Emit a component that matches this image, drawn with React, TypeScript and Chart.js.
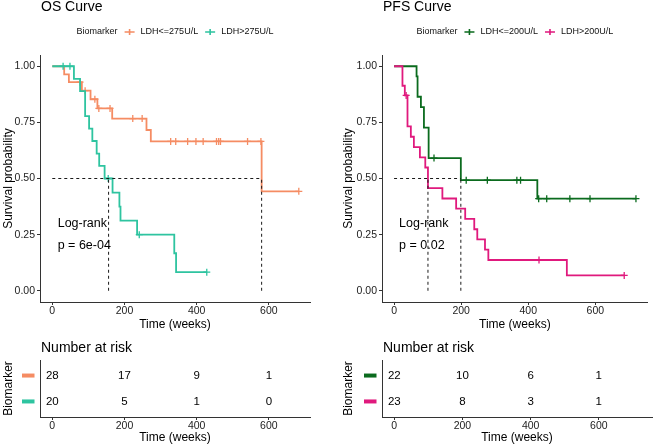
import React, { useEffect, useRef } from 'react';
import { Chart, registerables } from 'chart.js';
Chart.register(...registerables);

const FONT = "'Liberation Sans', Arial, Helvetica, sans-serif";

// ---------- shared ticks ----------
const xTicks = [0, 200, 400, 600];
const yTicks = [0, 0.25, 0.5, 0.75, 1];
const riskTimes = [0, 200, 400, 600];

// ---------- OS curve ----------
const osGroups = ['LDH<=275U/L', 'LDH>275U/L'];
const osColors = ['#F58C63', '#2EC4A0'];
const osLowTimes = [33, 46, 82, 106, 125, 166, 261, 273, 580];
const osLowSurv = [0.964, 0.929, 0.891, 0.853, 0.812, 0.767, 0.716, 0.665, 0.443];
const osLowCensor = [77, 91, 118, 129, 160, 223, 249, 328, 342, 375, 398, 418, 455, 461, 466, 541, 578, 683];
const osHighTimes = [60, 77, 91, 102, 111, 123, 130, 145, 167, 186, 189, 235, 338, 343];
const osHighSurv = [0.944, 0.889, 0.778, 0.722, 0.667, 0.611, 0.556, 0.5, 0.4375, 0.375, 0.3125, 0.25, 0.167, 0.083];
const osHighCensor = [30, 49, 155, 241, 428];
const osMedians = [156, 580];
const osPValue = 'p = 6e-04';
const osRiskLow = [28, 17, 9, 1];
const osRiskHigh = [20, 5, 1, 0];

// ---------- PFS curve ----------
const pfsGroups = ['LDH<=200U/L', 'LDH>200U/L'];
const pfsColors = ['#0B6B1E', '#E0197D'];
const pfsLowTimes = [67, 70, 80, 89, 103, 199, 427];
const pfsLowSurv = [0.955, 0.864, 0.818, 0.727, 0.591, 0.4925, 0.41];
const pfsLowCensor = [119, 215, 278, 366, 377, 431, 455, 524, 584, 721];
const pfsHighTimes = [25, 32, 40, 50, 59, 77, 93, 101, 144, 185, 212, 239, 248, 271, 281, 515];
const pfsHighSurv = [0.913, 0.87, 0.732, 0.686, 0.64, 0.594, 0.549, 0.457, 0.411, 0.366, 0.32, 0.274, 0.229, 0.183, 0.137, 0.0685];
const pfsHighCensor = [36, 432, 686];
const pfsMedians = [101, 199];
const pfsPValue = 'p = 0.02';
const pfsRiskLow = [22, 10, 6, 1];
const pfsRiskHigh = [23, 8, 3, 1];

type Curve = { times: number[]; surv: number[]; censor: number[] };

function survAt(c: Curve, t: number) {
  let s = 1;
  for (let i = 0; i < c.times.length; i++) if (c.times[i] <= t) s = c.surv[i];
  return s;
}

function axisCommon(min: number, max: number) {
  return {
    type: 'linear' as const,
    min,
    max,
    grid: { display: true, drawOnChartArea: false, drawTicks: true, tickLength: 3, color: '#333', lineWidth: 1 },
    border: { display: true, color: '#333', width: 1 },
  };
}

type SurvProps = {
  title: string;
  groups: string[];
  colors: string[];
  curves: Curve[];
  medians: number[];
  pText: string;
  xMin: number;
  xMax: number;
  padLeft: number;
  padRight: number;
  yWidth: number;
  width: number;
};

function SurvChart(p: SurvProps) {
  const ref = useRef<HTMLCanvasElement>(null);
  useEffect(() => {
    const datasets: any[] = [];
    const dash = { borderColor: '#1a1a1a', borderWidth: 1, borderDash: [3, 3], pointRadius: 0, fill: false, tension: 0 };
    datasets.push({ ...dash, data: [{ x: 0, y: 0.5 }, { x: Math.max(...p.medians), y: 0.5 }] });
    p.medians.forEach((m) => datasets.push({ ...dash, data: [{ x: m, y: 0 }, { x: m, y: 0.5 }] }));
    for (let g = p.curves.length - 1; g >= 0; g--) {
      const c = p.curves[g];
      const end = Math.max(...c.censor);
      const pts = [{ x: 0, y: 1 }, ...c.times.map((t, i) => ({ x: t, y: c.surv[i] })), { x: end, y: c.surv[c.surv.length - 1] }];
      datasets.push({
        data: c.censor.map((t) => ({ x: t, y: survAt(c, t) })),
        showLine: false,
        pointStyle: 'cross',
        pointRadius: 3.5,
        pointBorderWidth: 1.3,
        borderColor: p.colors[g],
        backgroundColor: p.colors[g],
      });
      datasets.push({ data: pts, stepped: 'before', borderColor: p.colors[g], borderWidth: 1.8, pointRadius: 0, fill: false });
    }
    const decor = {
      id: 'decor',
      afterDraw(chart: any) {
        const ctx = chart.ctx;
        const ca = chart.chartArea;
        ctx.save();
        ctx.fillStyle = '#000';
        ctx.textBaseline = 'middle';
        ctx.textAlign = 'left';
        ctx.font = `14px ${FONT}`;
        ctx.fillText(p.title, ca.left + 1, 7.5);
        // legend
        ctx.font = `9px ${FONT}`;
        const keyW = 10, keyGap = 6, itemGap = 7, titleGap = 7;
        const tW = ctx.measureText('Biomarker').width;
        const lw = p.groups.map((g) => ctx.measureText(g).width);
        let total = tW + titleGap;
        lw.forEach((w, i) => { total += keyW + keyGap + w + (i > 0 ? itemGap : 0); });
        let x = (ca.left + ca.right) / 2 - total / 2;
        const y = 32;
        ctx.fillStyle = '#111';
        ctx.fillText('Biomarker', x, y);
        x += tW + titleGap;
        p.groups.forEach((g, i) => {
          if (i > 0) x += itemGap;
          ctx.strokeStyle = p.colors[i];
          ctx.lineWidth = 1.6;
          ctx.beginPath();
          ctx.moveTo(x, y); ctx.lineTo(x + keyW, y);
          ctx.moveTo(x + keyW / 2, y - 3); ctx.lineTo(x + keyW / 2, y + 3);
          ctx.stroke();
          x += keyW + keyGap;
          ctx.fillStyle = '#111';
          ctx.fillText(g, x, y);
          x += lw[i];
        });
        // log-rank
        const xs = chart.scales.x, ys = chart.scales.y;
        ctx.font = `12.5px ${FONT}`;
        ctx.fillStyle = '#000';
        ctx.fillText('Log-rank', xs.getPixelForValue(15), ys.getPixelForValue(0.3));
        ctx.fillText(p.pText, xs.getPixelForValue(15), ys.getPixelForValue(0.2));
        ctx.restore();
      },
    };
    const chart = new Chart(ref.current!, {
      type: 'line',
      data: { datasets },
      plugins: [decor],
      options: {
        responsive: false,
        animation: false,
        layout: { padding: { top: 55, left: p.padLeft, right: p.padRight, bottom: 0 } },
        plugins: { legend: { display: false }, tooltip: { enabled: false } },
        scales: {
          x: {
            ...axisCommon(p.xMin, p.xMax),
            afterBuildTicks: (s: any) => { s.ticks = xTicks.map((v) => ({ value: v })); },
            afterFit: (s: any) => { s.height = 31; },
            ticks: { font: { family: FONT, size: 10.5 }, color: '#222', padding: 0, maxRotation: 0, autoSkip: false },
            title: { display: true, text: 'Time (weeks)', font: { family: FONT, size: 12 }, color: '#000', padding: { top: 0, bottom: 1 } },
          },
          y: {
            ...axisCommon(-0.05, 1.05),
            afterBuildTicks: (s: any) => { s.ticks = yTicks.map((v) => ({ value: v })); },
            afterFit: (s: any) => { s.width = p.yWidth; },
            ticks: { font: { family: FONT, size: 10.5 }, color: '#222', padding: 2, callback: (v: any) => Number(v).toFixed(2) },
            title: { display: true, text: 'Survival probability', font: { family: FONT, size: 12 }, color: '#000', padding: { top: 1, bottom: 0 } },
          },
        },
      } as any,
    });
    return () => chart.destroy();
  }, []);
  return <canvas ref={ref} width={p.width} height={333} style={{ display: 'block' }} />;
}

type RiskProps = {
  colors: string[];
  rows: number[][];
  xMin: number;
  xMax: number;
  padLeft: number;
  padRight: number;
  yWidth: number;
  width: number;
};

function RiskChart(p: RiskProps) {
  const ref = useRef<HTMLCanvasElement>(null);
  useEffect(() => {
    const decor = {
      id: 'riskdecor',
      afterDraw(chart: any) {
        const ctx = chart.ctx;
        const ca = chart.chartArea;
        const xs = chart.scales.x, ys = chart.scales.y;
        ctx.save();
        ctx.textBaseline = 'middle';
        ctx.textAlign = 'left';
        ctx.fillStyle = '#000';
        ctx.font = `14px ${FONT}`;
        ctx.fillText('Number at risk', ca.left + 1, 15.5);
        ctx.font = `11.5px ${FONT}`;
        ctx.textAlign = 'center';
        p.rows.forEach((row, r) => {
          const yv = ys.getPixelForValue(p.rows.length - r);
          ctx.fillStyle = p.colors[r];
          ctx.fillRect(ca.left - 18, yv - 2, 12.5, 4);
          ctx.fillStyle = '#000';
          row.forEach((n, i) => ctx.fillText(String(n), xs.getPixelForValue(riskTimes[i]), yv));
        });
        ctx.restore();
      },
    };
    const chart = new Chart(ref.current!, {
      type: 'line',
      data: { datasets: [] },
      plugins: [decor],
      options: {
        responsive: false,
        animation: false,
        layout: { padding: { top: 27, left: p.padLeft, right: p.padRight, bottom: 0 } },
        plugins: { legend: { display: false }, tooltip: { enabled: false } },
        scales: {
          x: {
            ...axisCommon(p.xMin, p.xMax),
            afterBuildTicks: (s: any) => { s.ticks = xTicks.map((v) => ({ value: v })); },
            afterFit: (s: any) => { s.height = 30; },
            ticks: { font: { family: FONT, size: 10.5 }, color: '#222', padding: 0, maxRotation: 0, autoSkip: false },
            title: { display: true, text: 'Time (weeks)', font: { family: FONT, size: 12 }, color: '#000', padding: { top: 0, bottom: 2 } },
          },
          y: {
            type: 'linear',
            min: 0.4,
            max: 2.6,
            afterBuildTicks: (s: any) => { s.ticks = [1, 2].map((v) => ({ value: v })); },
            afterFit: (s: any) => { s.width = p.yWidth; },
            grid: { display: false },
            border: { display: true, color: '#333', width: 1 },
            ticks: { display: false },
            title: { display: true, text: 'Biomarker', font: { family: FONT, size: 12 }, color: '#000', padding: { top: 1, bottom: 0 } },
          },
        },
      } as any,
    });
    return () => chart.destroy();
  }, []);
  return <canvas ref={ref} width={p.width} height={114} style={{ display: 'block' }} />;
}

export default function App() {
  const osCurves: Curve[] = [
    { times: osLowTimes, surv: osLowSurv, censor: osLowCensor },
    { times: osHighTimes, surv: osHighSurv, censor: osHighCensor },
  ];
  const pfsCurves: Curve[] = [
    { times: pfsLowTimes, surv: pfsLowSurv, censor: pfsLowCensor },
    { times: pfsHighTimes, surv: pfsHighSurv, censor: pfsHighCensor },
  ];
  const abs = (l: number, t: number): React.CSSProperties => ({ position: 'absolute', left: l, top: t });
  return (
    <div style={{ position: 'fixed', left: 0, top: 0, width: 653, height: 447, background: '#fff', overflow: 'hidden' }}>
      <div style={abs(0, 0)}>
        <SurvChart title="OS Curve" groups={osGroups} colors={osColors} curves={osCurves} medians={osMedians} pText={osPValue}
          xMin={-34} xMax={714} padLeft={0} padRight={16} yWidth={40} width={326} />
      </div>
      <div style={abs(326, 0)}>
        <SurvChart title="PFS Curve" groups={pfsGroups} colors={pfsColors} curves={pfsCurves} medians={pfsMedians} pText={pfsPValue}
          xMin={-36} xMax={756} padLeft={14} padRight={1} yWidth={42} width={327} />
      </div>
      <div style={abs(0, 333)}>
        <RiskChart colors={osColors} rows={[osRiskLow, osRiskHigh]} xMin={-34} xMax={714} padLeft={0} padRight={16} yWidth={40} width={326} />
      </div>
      <div style={abs(326, 333)}>
        <RiskChart colors={pfsColors} rows={[pfsRiskLow, pfsRiskHigh]} xMin={-36} xMax={756} padLeft={14} padRight={1} yWidth={42} width={327} />
      </div>
    </div>
  );
}
